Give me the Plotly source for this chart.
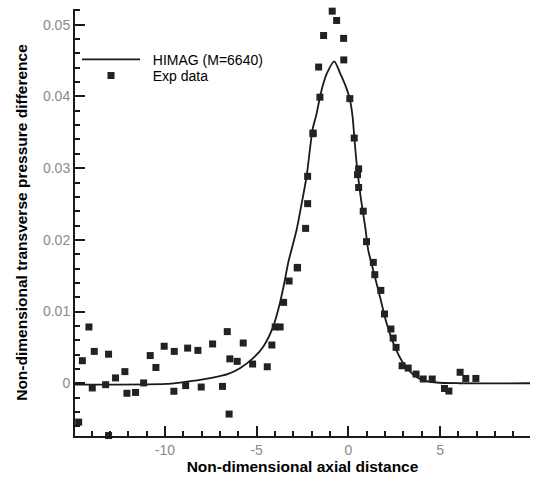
import plotly.graph_objects as go

# HIMAG (M=6640) computed curve
himag_x = [-14.9, -9.91, -9.18, -8.09, -7.0, -6.55, -5.91, -5.19, -4.64, -4.10,
           -3.73, -3.46, -3.28, -2.82, -2.55, -2.28, -1.95, -1.75, -1.55, -1.41, -1.16, -0.77,
           -0.46, -0.14, 0.08, 0.23, 0.32, 0.45, 0.67, 0.94, 1.08, 1.35, 1.72, 2.08, 2.53,
           2.99, 3.53, 4.08, 4.81, 6.0, 9.9]
himag_y = [-0.0002, -0.0001, 0.0001, 0.00046, 0.001, 0.0013, 0.0021, 0.0035, 0.0051,
           0.0079, 0.0112, 0.0144, 0.0168, 0.0214, 0.025, 0.0288, 0.0354, 0.0374,
           0.0399, 0.0414, 0.0433, 0.0449, 0.0433, 0.0414, 0.0396, 0.0372, 0.0344, 0.0307,
           0.026, 0.0214, 0.0186, 0.0158, 0.0121, 0.0084, 0.0051, 0.0028, 0.0012, 0.0004,
           0.0001, 0.0, 0.0]

# Experimental data points
exp_x = [-14.70, -14.50, -14.14, -13.96, -13.85, -13.23, -13.07, -13.07, -12.69, -12.18,
         -12.07, -11.60, -11.16, -10.80, -10.49, -10.04, -9.49, -9.51, -8.87, -8.76,
         -8.20, -8.02, -7.40, -6.86, -6.60, -6.46, -6.50, -6.06, -5.73, -5.22,
         -4.42, -4.17, -3.99, -3.72, -3.53, -3.23, -2.79, -2.77, -2.33, -2.22,
         -2.22, -1.92, -1.93, -1.55, -1.62, -1.35, -0.88, -0.64, -0.26, -0.25,
         0.08, 0.32, 0.56, 0.50, 0.56, 0.81, 0.99, 1.36, 1.44, 1.77,
         1.97, 2.32, 2.44, 2.60, 2.93, 3.26, 3.69, 4.08, 4.57, 5.24,
         5.48, 6.09, 6.40, 6.95]
exp_y = [-0.00542, 0.00314, 0.00785, -0.00066, 0.00444, -0.0002, 0.00405, -0.0073, 0.00074, 0.00162,
         -0.0014, -0.00128, 0.00004, 0.00386, 0.0022, 0.00516, 0.00444, -0.00112, -0.00033, 0.0049,
         0.00458, -0.00053, 0.00548, -0.00044, 0.0072, 0.0034, -0.0043, 0.00305, 0.00561, 0.00268,
         0.0023, 0.00533, 0.00785, 0.00785, 0.01128, 0.01426, 0.01608, 0.01616, 0.0216, 0.02505,
         0.02886, 0.0349, 0.0348, 0.0399, 0.0441, 0.0485, 0.0519, 0.0506, 0.0481, 0.0451,
         0.0397, 0.0342, 0.0299, 0.0291, 0.0273, 0.024, 0.01975, 0.01686, 0.01514, 0.01295,
         0.00966, 0.00756, 0.0063, 0.005, 0.00244, 0.00212, 0.00128, 0.00059, 0.00059, -0.00073,
         -0.00109, 0.00153, 0.00067, 0.00067]

x_tick_vals = [-10, -5, 0, 5]
x_tick_text = ["-10", "-5", "0", "5"]
y_tick_vals = [0, 0.01, 0.02, 0.03, 0.04, 0.05]
y_tick_text = ["0", "0.01", "0.02", "0.03", "0.04", "0.05"]

FONT = "Liberation Sans, Arial, Helvetica, sans-serif"
AX = "#1a1a1a"
NB = "\u00a0\u00a0"

fig = go.Figure()
fig.add_trace(go.Scatter(
    x=himag_x, y=himag_y, mode="lines", name=NB + "HIMAG (M=6640)",
    line=dict(color="#1a1a1a", width=1.8, shape="spline", smoothing=0.7),
    legend="legend",
))
fig.add_trace(go.Scatter(
    x=exp_x, y=exp_y, mode="markers", name=NB + "Exp data",
    marker=dict(symbol="square", size=7, color="#222222", line=dict(width=0)),
    cliponaxis=False, legend="legend2",
))

leg_common = dict(xanchor="left", yanchor="top", bgcolor="rgba(0,0,0,0)",
                  font=dict(size=14, color="black", family=FONT), itemwidth=58)

fig.update_layout(
    width=534, height=478,
    margin=dict(l=75, r=4, t=9, b=42),
    paper_bgcolor="white", plot_bgcolor="white",
    font=dict(family=FONT, color="black"),
    showlegend=True,
    legend=dict(x=0.0044, y=0.9185, **leg_common),
    legend2=dict(x=0.0044, y=0.881, **leg_common),
    xaxis=dict(
        range=[-14.9, 9.9], showgrid=False, zeroline=False,
        showline=True, linecolor=AX, linewidth=2,
        ticks="inside", ticklen=10, tickwidth=2, tickcolor=AX,
        tickvals=x_tick_vals, ticktext=x_tick_text,
        tickfont=dict(size=14, color="#8a8a8a", family=FONT),
        minor=dict(dtick=1, tick0=0, ticks="inside", ticklen=5, tickwidth=1.5, tickcolor=AX),
        title=dict(text="<b>Non-dimensional axial distance</b>", standoff=2,
                   font=dict(size=15.5, color="black", family=FONT)),
    ),
    yaxis=dict(
        range=[-0.00736, 0.0522], showgrid=False, zeroline=False,
        showline=True, linecolor=AX, linewidth=2,
        ticks="inside", ticklen=10, tickwidth=2, tickcolor=AX,
        tickvals=y_tick_vals, ticktext=y_tick_text,
        tickfont=dict(size=14, color="#8a8a8a", family=FONT),
        minor=dict(dtick=0.002, tick0=0, ticks="inside", ticklen=5, tickwidth=1.5, tickcolor=AX),
        title=dict(text="<b>Non-dimensional transverse pressure difference</b>", standoff=12,
                   font=dict(size=15.5, color="black", family=FONT)),
    ),
)

fig.write_html("out.html")
